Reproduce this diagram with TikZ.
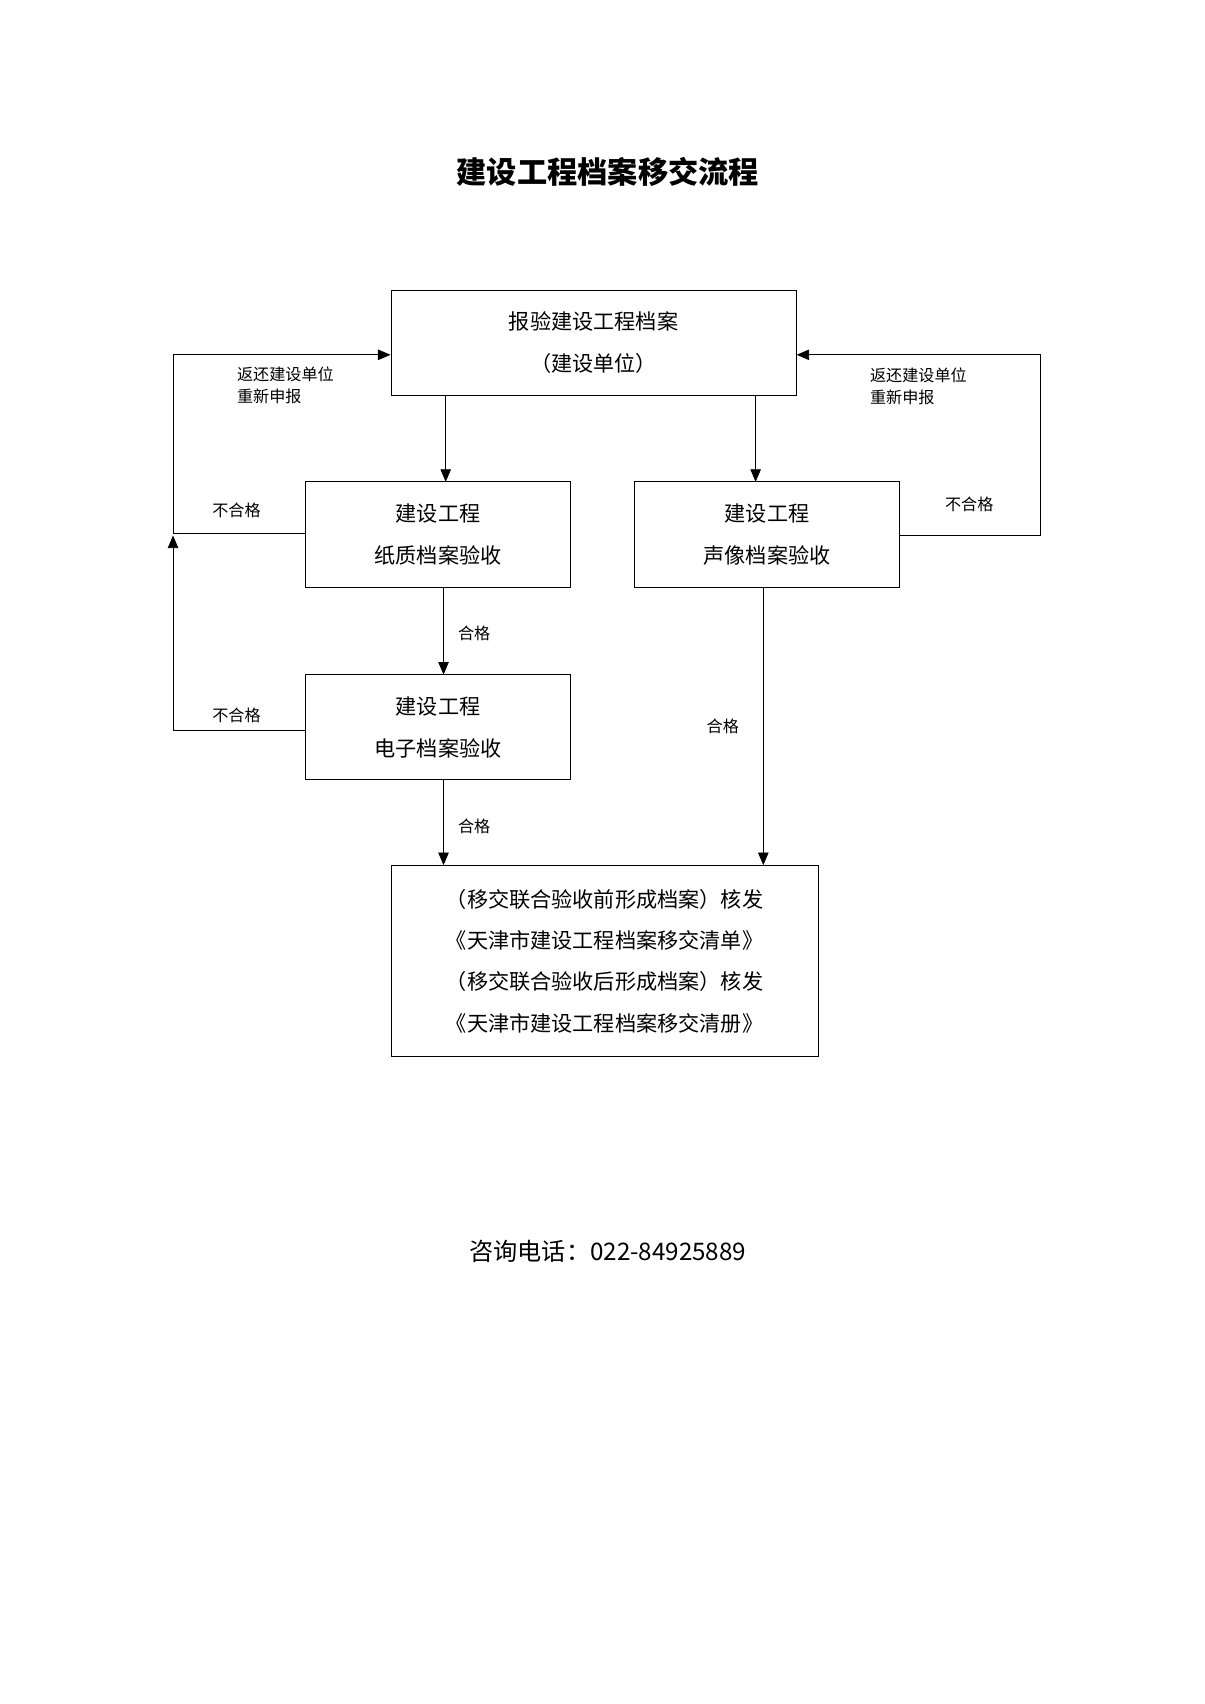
\documentclass[tikz,border=0pt]{standalone}
\usepackage{fontspec}
\setmainfont{Noto Sans CJK SC}
\usetikzlibrary{arrows}

\tikzset{
  box/.style={draw, minimum width=242\unitpx, minimum height=96\unitpx, align=center, font=\fontsize{10.5}{21}\selectfont},
  lbl/.style={font=\fontsize{8}{11}\selectfont, align=left},
  flow/.style={arrows={-triangle 45}}
}
\newlength{\unitpx}
\setlength{\unitpx}{0.0191cm}

\begin{document}
\begin{tikzpicture}[x=0.0191cm, y=-0.0191cm]
\useasboundingbox (0,0) rectangle (1100,1556);

\node[font=\bfseries\fontsize{15}{18}\selectfont] (title) at (555,157) {建设工程档案移交流程};

\node[box, minimum width=370\unitpx] (submit) at (542,313) {报验建设工程档案\\（建设单位）};
\node[box] (paper) at (400,488) {建设工程\\纸质档案验收};
\node[box] (audio) at (700.5,488) {建设工程\\声像档案验收};
\node[box] (elec) at (400,664) {建设工程\\电子档案验收};
\node[box, minimum width=390\unitpx, minimum height=175\unitpx, font=\fontsize{10.5}{20.5}\selectfont] (issue) at (552,877.5)
  {（移交联合验收前形成档案）核发\\《天津市建设工程档案移交清单》\\（移交联合验收后形成档案）核发\\《天津市建设工程档案移交清册》};

% down
\draw[flow] (407,361) -- (407,440);
\draw[flow] (690,361) -- (690,440);
\draw[flow] (405,536) -- (405,616);
\node[lbl] (ok1) at (433,578) {合格};
\draw[flow] (405,712) -- (405,790);
\node[lbl] (ok2) at (433,755) {合格};
\draw[flow] (697,536) -- (697,790);
\node[lbl] (ok3) at (660,663) {合格};

% left feedback
\coordinate (l1) at (158,487);
\coordinate (l2) at (158,324);
\draw[flow] (paper.west |- l1) -- (l1) -- (l2) -- (submit.west |- l2);
\node[lbl, anchor=west] (back1) at (210,352) {返还建设单位\\重新申报};
\node[lbl] (ng1) at (216,466) {不合格};
\coordinate (l3) at (158,667);
\draw[flow] (elec.west |- l3) -- (l3) -- (158,489);
\node[lbl] (ng2) at (216,653) {不合格};

% right feedback
\coordinate (r1) at (950,489);
\coordinate (r2) at (950,324);
\draw[flow] (audio.east |- r1) -- (r1) -- (r2) -- (submit.east |- r2);
\node[lbl, anchor=west] (back2) at (788,353) {返还建设单位\\重新申报};
\node[lbl] (ng3) at (885,461) {不合格};

\node[font=\fontsize{12}{14}\selectfont] (phone) at (555,1143) {咨询电话：022-84925889};
\end{tikzpicture}
\end{document}
